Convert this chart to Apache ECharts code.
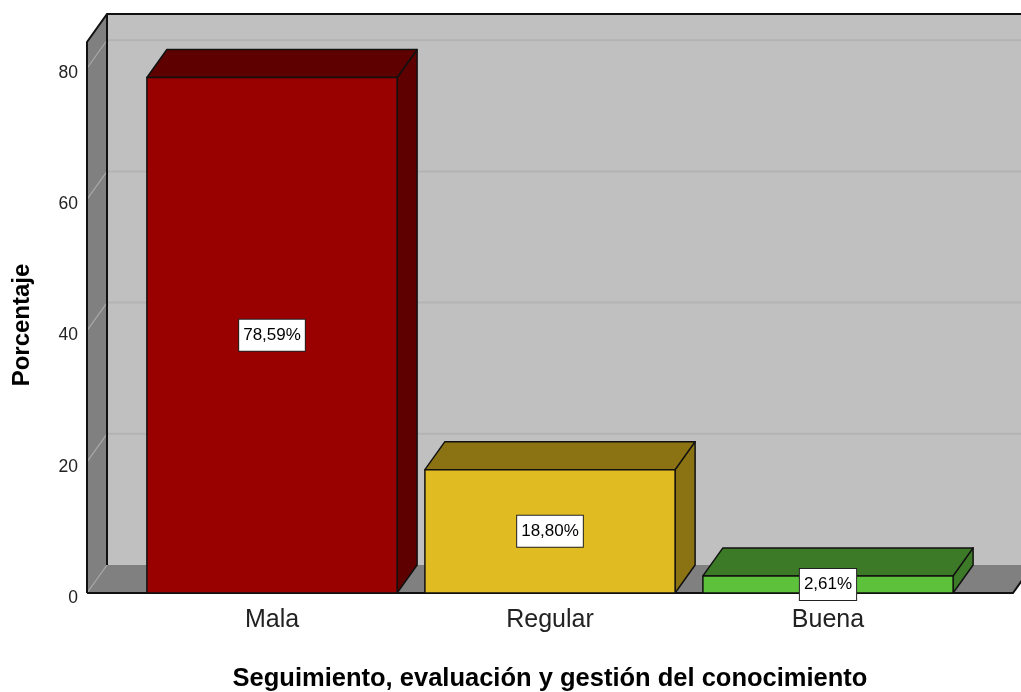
<!DOCTYPE html>
<html>
<head>
<meta charset="utf-8">
<script src="https://cdn.jsdelivr.net/npm/echarts@6/dist/echarts.min.js"></script>
<style>
  html, body { margin: 0; padding: 0; background: #fff; }
  #chart { width: 1021px; height: 692px; }
</style>
</head>
<body>
<div id="chart"></div>
<script>
// Categories and percentages
const categories = ['Mala', 'Regular', 'Buena'];
const percentages = [78.59, 18.80, 2.61];
const yTicks = [0, 20, 40, 60, 80];
const xTitle = 'Seguimiento, evaluación y gestión del conocimiento';
const yTitle = 'Porcentaje';

// Face colours per bar: front, top, right side
const frontColors = ['#990000', '#E1BB22', '#5DC13B'];
const topColors = ['#5E0000', '#8B7314', '#3D7A27'];
const sideColors = ['#5E0000', '#8B7314', '#3D7A27'];

const FONT = '"Liberation Sans", Arial, sans-serif';
// Perspective depth offset in pixels
const DX = 20, DY = -28;
// Floor / wall extension beyond the category band on each side
const EXT = 46;

const chart = echarts.init(document.getElementById('chart'), null, { renderer: 'canvas' });

function fmtPct(v) {
  return v.toFixed(2).replace('.', ',') + '%';
}

function renderFrame(params, api) {
  const cs = params.coordSys;
  const left = cs.x - EXT;
  const right = cs.x + cs.width + EXT;
  const y0 = api.coord([0, 0])[1];
  const yTop = cs.y;
  const children = [];
  // left wall
  children.push({ type: 'polygon', shape: { points: [[left, yTop], [left + DX, yTop + DY], [left + DX, y0 + DY], [left, y0]] },
    style: { fill: '#808080' } });
  // back wall
  children.push({ type: 'rect', shape: { x: left + DX, y: yTop + DY, width: right - left, height: y0 - yTop } ,
    style: { fill: '#C0C0C0' } });
  // floor
  children.push({ type: 'polygon', shape: { points: [[left, y0], [left + DX, y0 + DY], [right + DX, y0 + DY], [right, y0]] },
    style: { fill: '#808080' } });
  // grid lines on back wall and left wall
  yTicks.forEach(function (t) {
    const yf = api.coord([0, t])[1];
    if (t > 0) {
      children.push({ type: 'line', shape: { x1: left + DX, y1: yf + DY, x2: right + DX, y2: yf + DY },
        style: { stroke: '#B3B3B3', lineWidth: 2 } });
    }
    children.push({ type: 'line', shape: { x1: left, y1: yf, x2: left + DX, y2: yf + DY },
      style: { stroke: '#A8A8A8', lineWidth: 1.2 } });
  });
  // frame edges
  const edge = { stroke: '#111', lineWidth: 2 };
  children.push({ type: 'polyline', shape: { points: [[left, y0], [left, yTop], [left + DX, yTop + DY], [right + DX + 40, yTop + DY]] }, style: Object.assign({ fill: null }, edge) });
  children.push({ type: 'line', shape: { x1: left + DX, y1: yTop + DY, x2: left + DX, y2: y0 + DY }, style: edge });
  children.push({ type: 'polyline', shape: { points: [[left, y0], [right, y0], [right + DX, y0 + DY]] }, style: Object.assign({ fill: null }, edge) });
  return { type: 'group', children: children };
}

function renderBar(params, api) {
  const i = api.value(0);
  const v = api.value(1);
  const band = api.size([1, 0])[0];
  const half = band * 0.45;
  const pTop = api.coord([i, v]);
  const pBase = api.coord([i, 0]);
  const xl = pTop[0] - half, xr = pTop[0] + half;
  const yt = pTop[1], y0 = pBase[1];
  const k = params.dataIndex;
  const line = { stroke: '#111', lineWidth: 1.5, lineJoin: 'round' };
  return {
    type: 'group',
    children: [
      { type: 'polygon', shape: { points: [[xr, yt], [xr + DX, yt + DY], [xr + DX, y0 + DY], [xr, y0]] },
        style: Object.assign({ fill: sideColors[k] }, line) },
      { type: 'polygon', shape: { points: [[xl, yt], [xr, yt], [xr + DX, yt + DY], [xl + DX, yt + DY]] },
        style: Object.assign({ fill: topColors[k] }, line) },
      { type: 'rect', shape: { x: xl, y: yt, width: xr - xl, height: y0 - yt },
        style: Object.assign({ fill: frontColors[k] }, line) },
      { type: 'text', x: pTop[0], y: (yt + y0) / 2,
        style: { text: fmtPct(v), font: '17px ' + FONT, fill: '#000', align: 'center', verticalAlign: 'middle',
          backgroundColor: '#fff', borderColor: '#222', borderWidth: 1, padding: [7, 4, 7, 4] } }
    ]
  };
}

chart.setOption({
  animation: false,
  backgroundColor: '#fff',
  grid: { left: 133, right: 54, top: 42, bottom: 99, containLabel: false, outerBoundsMode: 'none' },
  xAxis: {
    type: 'category',
    data: categories,
    axisLine: { show: false },
    axisTick: { show: false },
    axisLabel: { fontFamily: FONT, fontSize: 25, color: '#222', margin: 15 },
    name: xTitle,
    nameLocation: 'middle',
    nameGap: 73,
    nameTextStyle: { fontFamily: FONT, fontSize: 25.5, fontWeight: 'bold', color: '#000' }
  },
  yAxis: {
    type: 'value',
    min: 0,
    max: 84,
    interval: 20,
    offset: EXT,
    axisLine: { show: false },
    axisTick: { show: false },
    splitLine: { show: false },
    axisLabel: {
      fontFamily: FONT, fontSize: 17.5, color: '#222', margin: 9,
      verticalAlign: 'top', lineHeight: 10,
      formatter: function (val) { return yTicks.indexOf(val) >= 0 ? String(val) : ''; }
    }
  },
  graphic: [{
    type: 'text', x: 22, y: 325, rotation: Math.PI / 2,
    style: { text: yTitle, font: 'bold 24px ' + FONT, fill: '#000', align: 'center', verticalAlign: 'middle' }
  }],
  series: [
    { type: 'custom', clip: false, silent: true, renderItem: renderFrame, data: [[0, 0]], z: 1 },
    { type: 'custom', clip: false, renderItem: renderBar, data: percentages.map(function (v, i) { return [i, v]; }), z: 2 }
  ]
});
</script>
</body>
</html>
